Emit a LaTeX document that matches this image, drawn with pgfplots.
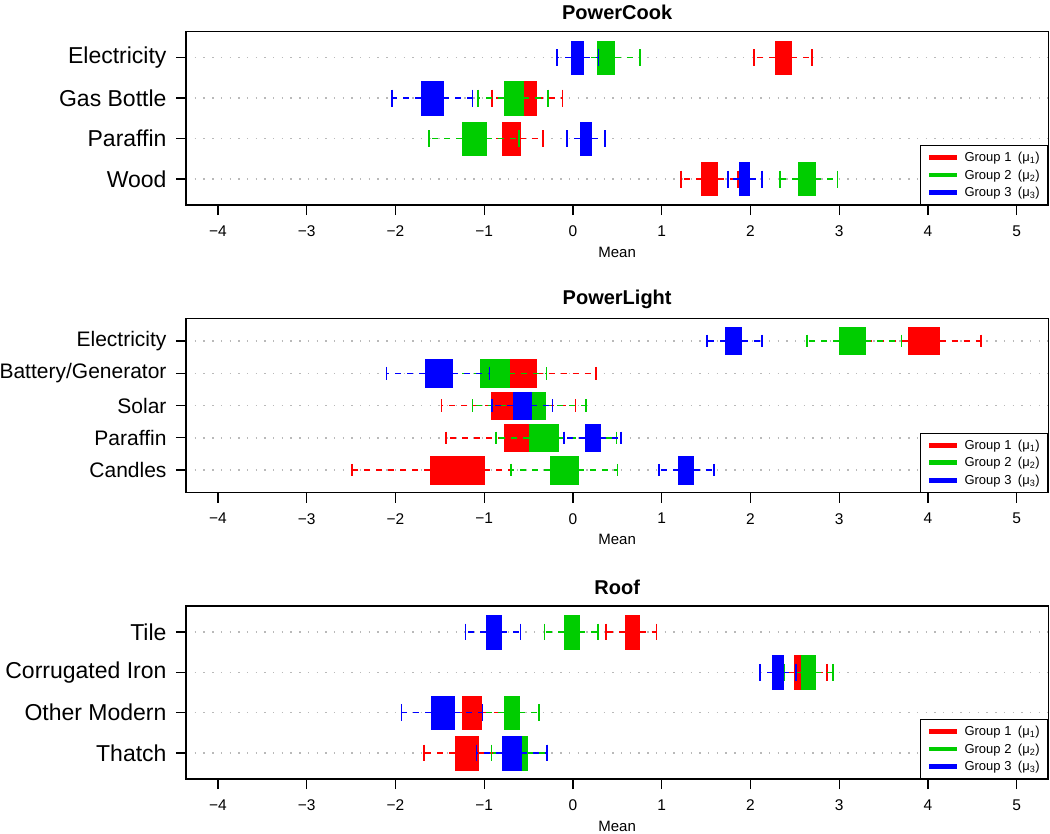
\documentclass[border=0pt]{standalone}
\usepackage{fontspec}
\setmainfont{Liberation Sans}
\usepackage{pgfplots}
\pgfplotsset{compat=1.18}
\usepgfplotslibrary{statistics}

\definecolor{gR}{RGB}{255,0,0}
\definecolor{gG}{RGB}{0,205,0}
\definecolor{gB}{RGB}{0,0,255}
\definecolor{gridgray}{RGB}{185,185,185}

% fractions of the default box extent (0.8) used for the box and the caps
\gdef\bflo{-0.0125}\gdef\bfhi{1.0125}\gdef\cflo{0.2375}\gdef\cfhi{0.7625}

\pgfplotsset{
  /pgfplots/boxplot/draw direction=x,
  /pgfplots/boxplot/draw/median/.code={},
  /pgfplots/boxplot/draw/box/.code={%
    \fill (boxplot box cs:\pgfplotsboxplotvalue{lower quartile},\bflo) rectangle (boxplot box cs:\pgfplotsboxplotvalue{upper quartile},\bfhi);},
  /pgfplots/boxplot/draw/lower whisker/.code={%
    \draw[line width=1.4bp, dash pattern=on 6bp off 6bp] (boxplot box cs:\pgfplotsboxplotvalue{lower quartile},0.5) -- (boxplot box cs:\pgfplotsboxplotvalue{lower whisker},0.5);
    \draw[line width=1.6bp, solid] (boxplot box cs:\pgfplotsboxplotvalue{lower whisker},\cflo) -- (boxplot box cs:\pgfplotsboxplotvalue{lower whisker},\cfhi);},
  /pgfplots/boxplot/draw/upper whisker/.code={%
    \draw[line width=1.4bp, dash pattern=on 6bp off 6bp] (boxplot box cs:\pgfplotsboxplotvalue{upper quartile},0.5) -- (boxplot box cs:\pgfplotsboxplotvalue{upper whisker},0.5);
    \draw[line width=1.6bp, solid] (boxplot box cs:\pgfplotsboxplotvalue{upper whisker},\cflo) -- (boxplot box cs:\pgfplotsboxplotvalue{upper whisker},\cfhi);},
  panel/.style={
    scale only axis, width=862.3bp, anchor=north west,
    xmin=-4.36, xmax=5.356,
    xtick={-4,-3,-2,-1,0,1,2,3,4,5},
    xticklabels={−4,−3,−2,−1,0,1,2,3,4,5},
    y dir=reverse,
    tick align=outside, xtick pos=bottom, ytick pos=left,
    major tick length=10bp,
    ymajorgrids,
    major grid style={gridgray, line width=1.4bp, dash pattern=on 1.4bp off 7.3bp},
    axis line style={line width=1.3bp},
    every tick/.style={black, line width=1.3bp},
    xticklabel style={font=\fontsize{15.5bp}{17bp}\selectfont, yshift=-7bp},
    xlabel=Mean,
    xlabel style={font=\fontsize{15bp}{17bp}\selectfont, at={(axis description cs:0.5,0)}, anchor=center, yshift=-47bp},
    title style={font=\bfseries\fontsize{20bp}{22bp}\selectfont, at={(axis description cs:0.5,1)}, anchor=center, yshift=13bp},
    legend style={at={(1,0)}, anchor=south east, draw=black, line width=1.2bp,
      font=\fontsize{13bp}{15bp}\selectfont, inner xsep=6bp, inner ysep=4.5bp, row sep=2.5bp},
    legend cell align=left,
    legend image code/.code={\draw[line width=4.8bp, ##1] (0bp,0bp) -- (28bp,0bp); \path (33bp,0bp);},
  }
}

\begin{document}
\begin{tikzpicture}
\path[use as bounding box] (0,0) rectangle (1050bp,-834bp);

% ---------------- PowerCook ----------------
\gdef\bflo{-0.0125}\gdef\bfhi{1.0125}\gdef\cflo{0.2375}\gdef\cfhi{0.7625}
\begin{axis}[panel, at={(186bp,-31.7bp)}, height=173.3bp,
  title={PowerCook},
  ymin=0.36, ymax=4.64,
  ytick={1,2,3,4}, yticklabels={Electricity,Gas Bottle,Paraffin,Wood},
  yticklabel style={font=\fontsize{23bp}{25bp}\selectfont, xshift=-6bp}]
\addlegendimage{gR}\addlegendentry{Group 1\enspace(μ\textsubscript{1})}
\addlegendimage{gG}\addlegendentry{Group 2\enspace(μ\textsubscript{2})}
\addlegendimage{gB}\addlegendentry{Group 3\enspace(μ\textsubscript{3})}
% Group 1 (red)
\addplot[gR, forget plot, boxplot prepared={draw position=1, lower whisker=2.04, lower quartile=2.28, median=2.37, upper quartile=2.46, upper whisker=2.69}] coordinates {};
\addplot[gR, forget plot, boxplot prepared={draw position=2, lower whisker=-0.91, lower quartile=-0.66, median=-0.53, upper quartile=-0.41, upper whisker=-0.12}] coordinates {};
\addplot[gR, forget plot, boxplot prepared={draw position=3, lower whisker=-1.05, lower quartile=-0.80, median=-0.70, upper quartile=-0.60, upper whisker=-0.34}] coordinates {};
\addplot[gR, forget plot, boxplot prepared={draw position=4, lower whisker=1.22, lower quartile=1.45, median=1.54, upper quartile=1.63, upper whisker=1.86}] coordinates {};
% Group 2 (green)
\addplot[gG, forget plot, boxplot prepared={draw position=1, lower whisker=0.08, lower quartile=0.27, median=0.37, upper quartile=0.47, upper whisker=0.755}] coordinates {};
\addplot[gG, forget plot, boxplot prepared={draw position=2, lower whisker=-1.07, lower quartile=-0.78, median=-0.67, upper quartile=-0.56, upper whisker=-0.28}] coordinates {};
\addplot[gG, forget plot, boxplot prepared={draw position=3, lower whisker=-1.62, lower quartile=-1.25, median=-1.12, upper quartile=-0.98, upper whisker=-0.61}] coordinates {};
\addplot[gG, forget plot, boxplot prepared={draw position=4, lower whisker=2.33, lower quartile=2.54, median=2.63, upper quartile=2.73, upper whisker=2.98}] coordinates {};
% Group 3 (blue)
\addplot[gB, forget plot, boxplot prepared={draw position=1, lower whisker=-0.18, lower quartile=-0.02, median=0.05, upper quartile=0.12, upper whisker=0.29}] coordinates {};
\addplot[gB, forget plot, boxplot prepared={draw position=2, lower whisker=-2.04, lower quartile=-1.71, median=-1.58, upper quartile=-1.46, upper whisker=-1.13}] coordinates {};
\addplot[gB, forget plot, boxplot prepared={draw position=3, lower whisker=-0.07, lower quartile=0.08, median=0.15, upper quartile=0.21, upper whisker=0.36}] coordinates {};
\addplot[gB, forget plot, boxplot prepared={draw position=4, lower whisker=1.75, lower quartile=1.87, median=1.93, upper quartile=1.99, upper whisker=2.13}] coordinates {};
\end{axis}

% ---------------- PowerLight ----------------
\gdef\bflo{-0.028}\gdef\bfhi{1.028}\gdef\cflo{0.256}\gdef\cfhi{0.744}
\begin{axis}[panel, at={(186bp,-318.3bp)}, height=174.4bp,
  title={PowerLight},
  ymin=0.3, ymax=5.7,
  ytick={1,2,3,4,5}, yticklabels={Electricity,Battery/Generator,Solar,Paraffin,Candles},
  yticklabel style={font=\fontsize{21bp}{23bp}\selectfont, xshift=-6bp}]
\addlegendimage{gR}\addlegendentry{Group 1\enspace(μ\textsubscript{1})}
\addlegendimage{gG}\addlegendentry{Group 2\enspace(μ\textsubscript{2})}
\addlegendimage{gB}\addlegendentry{Group 3\enspace(μ\textsubscript{3})}
% Group 1 (red)
\addplot[gR, forget plot, boxplot prepared={draw position=1, lower whisker=3.15, lower quartile=3.78, median=3.95, upper quartile=4.13, upper whisker=4.60}] coordinates {};
\addplot[gR, forget plot, boxplot prepared={draw position=2, lower whisker=-0.98, lower quartile=-0.85, median=-0.63, upper quartile=-0.41, upper whisker=0.26}] coordinates {};
\addplot[gR, forget plot, boxplot prepared={draw position=3, lower whisker=-1.48, lower quartile=-0.92, median=-0.73, upper quartile=-0.55, upper whisker=0.03}] coordinates {};
\addplot[gR, forget plot, boxplot prepared={draw position=4, lower whisker=-1.43, lower quartile=-0.78, median=-0.59, upper quartile=-0.40, upper whisker=-0.10}] coordinates {};
\addplot[gR, forget plot, boxplot prepared={draw position=5, lower whisker=-2.49, lower quartile=-1.61, median=-1.30, upper quartile=-1.00, upper whisker=-0.70}] coordinates {};
% Group 2 (green)
\addplot[gG, forget plot, boxplot prepared={draw position=1, lower whisker=2.64, lower quartile=3.00, median=3.15, upper quartile=3.29, upper whisker=3.70}] coordinates {};
\addplot[gG, forget plot, boxplot prepared={draw position=2, lower whisker=-1.45, lower quartile=-1.05, median=-0.88, upper quartile=-0.72, upper whisker=-0.30}] coordinates {};
\addplot[gG, forget plot, boxplot prepared={draw position=3, lower whisker=-1.13, lower quartile=-0.62, median=-0.46, upper quartile=-0.31, upper whisker=0.15}] coordinates {};
\addplot[gG, forget plot, boxplot prepared={draw position=4, lower whisker=-0.87, lower quartile=-0.49, median=-0.33, upper quartile=-0.17, upper whisker=0.49}] coordinates {};
\addplot[gG, forget plot, boxplot prepared={draw position=5, lower whisker=-0.70, lower quartile=-0.26, median=-0.10, upper quartile=0.056, upper whisker=0.50}] coordinates {};
% Group 3 (blue)
\addplot[gB, forget plot, boxplot prepared={draw position=1, lower whisker=1.51, lower quartile=1.72, median=1.81, upper quartile=1.90, upper whisker=2.13}] coordinates {};
\addplot[gB, forget plot, boxplot prepared={draw position=2, lower whisker=-2.10, lower quartile=-1.67, median=-1.52, upper quartile=-1.36, upper whisker=-0.94}] coordinates {};
\addplot[gB, forget plot, boxplot prepared={draw position=3, lower whisker=-0.91, lower quartile=-0.67, median=-0.57, upper quartile=-0.47, upper whisker=-0.23}] coordinates {};
\addplot[gB, forget plot, boxplot prepared={draw position=4, lower whisker=-0.10, lower quartile=0.135, median=0.22, upper quartile=0.31, upper whisker=0.54}] coordinates {};
\addplot[gB, forget plot, boxplot prepared={draw position=5, lower whisker=0.97, lower quartile=1.19, median=1.27, upper quartile=1.36, upper whisker=1.59}] coordinates {};
\end{axis}

% ---------------- Roof ----------------
\gdef\bflo{-0.022}\gdef\bfhi{1.022}\gdef\cflo{0.2375}\gdef\cfhi{0.7625}
\begin{axis}[panel, at={(186bp,-606bp)}, height=173bp,
  title={Roof},
  ymin=0.355, ymax=4.645,
  ytick={1,2,3,4}, yticklabels={Tile,Corrugated Iron,Other Modern,Thatch},
  yticklabel style={font=\fontsize{23bp}{25bp}\selectfont, xshift=-6bp}]
\addlegendimage{gR}\addlegendentry{Group 1\enspace(μ\textsubscript{1})}
\addlegendimage{gG}\addlegendentry{Group 2\enspace(μ\textsubscript{2})}
\addlegendimage{gB}\addlegendentry{Group 3\enspace(μ\textsubscript{3})}
% Group 1 (red)
\addplot[gR, forget plot, boxplot prepared={draw position=1, lower whisker=0.37, lower quartile=0.59, median=0.67, upper quartile=0.75, upper whisker=0.94}] coordinates {};
\addplot[gR, forget plot, boxplot prepared={draw position=2, lower whisker=2.30, lower quartile=2.49, median=2.56, upper quartile=2.62, upper whisker=2.86}] coordinates {};
\addplot[gR, forget plot, boxplot prepared={draw position=3, lower whisker=-1.45, lower quartile=-1.25, median=-1.14, upper quartile=-1.03, upper whisker=-0.72}] coordinates {};
\addplot[gR, forget plot, boxplot prepared={draw position=4, lower whisker=-1.68, lower quartile=-1.33, median=-1.20, upper quartile=-1.07, upper whisker=-0.70}] coordinates {};
% Group 2 (green)
\addplot[gG, forget plot, boxplot prepared={draw position=1, lower whisker=-0.32, lower quartile=-0.10, median=-0.02, upper quartile=0.07, upper whisker=0.28}] coordinates {};
\addplot[gG, forget plot, boxplot prepared={draw position=2, lower whisker=2.38, lower quartile=2.57, median=2.65, upper quartile=2.73, upper whisker=2.93}] coordinates {};
\addplot[gG, forget plot, boxplot prepared={draw position=3, lower whisker=-1.02, lower quartile=-0.78, median=-0.70, upper quartile=-0.61, upper whisker=-0.38}] coordinates {};
\addplot[gG, forget plot, boxplot prepared={draw position=4, lower whisker=-0.92, lower quartile=-0.70, median=-0.61, upper quartile=-0.52, upper whisker=-0.29}] coordinates {};
% Group 3 (blue)
\addplot[gB, forget plot, boxplot prepared={draw position=1, lower whisker=-1.21, lower quartile=-0.98, median=-0.90, upper quartile=-0.81, upper whisker=-0.59}] coordinates {};
\addplot[gB, forget plot, boxplot prepared={draw position=2, lower whisker=2.11, lower quartile=2.25, median=2.31, upper quartile=2.37, upper whisker=2.51}] coordinates {};
\addplot[gB, forget plot, boxplot prepared={draw position=3, lower whisker=-1.93, lower quartile=-1.60, median=-1.47, upper quartile=-1.34, upper whisker=-1.02}] coordinates {};
\addplot[gB, forget plot, boxplot prepared={draw position=4, lower whisker=-1.085, lower quartile=-0.80, median=-0.69, upper quartile=-0.58, upper whisker=-0.29}] coordinates {};
\end{axis}
\end{tikzpicture}
\end{document}
